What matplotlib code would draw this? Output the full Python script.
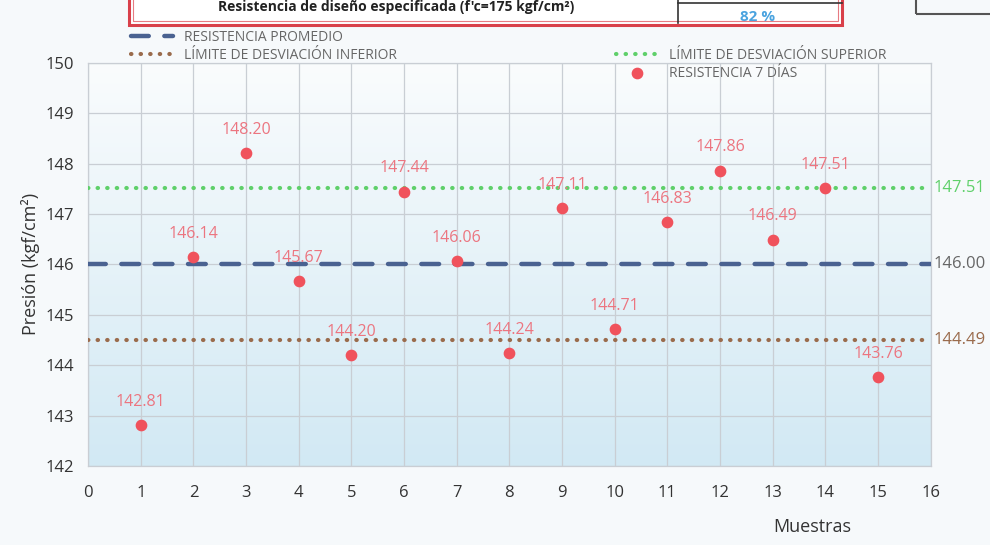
import matplotlib
matplotlib.use("Agg")
import matplotlib.pyplot as plt
import numpy as np
from matplotlib.lines import Line2D
from matplotlib.patches import Rectangle

plt.rcParams['font.family'] = ['Open Sans', 'DejaVu Sans']

# Muestras y resistencia a 7 días (kgf/cm²)
muestras = [1, 2, 3, 4, 5, 6, 7, 8, 9, 10, 11, 12, 13, 14, 15]
resistencia = [142.81, 146.14, 148.20, 145.67, 144.20, 147.44, 146.06, 144.24,
               147.11, 144.71, 146.83, 147.86, 146.49, 147.51, 143.76]
promedio = 146.00
lim_superior = 147.51
lim_inferior = 144.49
x_ticks = list(range(0, 17))
y_ticks = list(range(142, 151))

c_prom = '#4a6291'
c_sup = '#5fd06a'
c_inf = '#9a6b4c'
c_pt = '#f0525c'
c_lbl = '#ec7580'

fig = plt.figure(figsize=(9.9, 5.45), dpi=100)
fig.patch.set_facecolor('#f6f9fb')

# Cabecera de la tabla de resultados
fig.patches.append(Rectangle((0.13, 0.955), 0.72, 0.08, transform=fig.transFigure,
                             fill=True, facecolor='white', edgecolor='#d9404a', lw=2.2))
fig.patches.append(Rectangle((0.134, 0.962), 0.712, 0.07, transform=fig.transFigure,
                             fill=False, edgecolor='#e77b82', lw=0.8))
fig.add_artist(Line2D([0.685, 0.685], [0.958, 1.0], transform=fig.transFigure,
                      color='#333333', lw=1.2))
fig.add_artist(Line2D([0.685, 0.85], [0.995, 0.995], transform=fig.transFigure,
                      color='#333333', lw=1.2))
fig.text(0.40, 0.988, "Resistencia de diseño especificada (f'c=175 kgf/cm²)",
         ha='center', va='center', fontsize=10, fontweight='bold', color='#222222')
fig.text(0.765, 0.968, '82 %', ha='center', va='center', fontsize=11,
         fontweight='bold', color='#4aa3df')
fig.patches.append(Rectangle((0.925, 0.975), 0.09, 0.04, transform=fig.transFigure,
                             fill=False, edgecolor='#555555', lw=1.5))

ax = fig.add_axes([0.089, 0.145, 0.851, 0.74])

# Fondo degradado del área de trazado (claro arriba, celeste abajo)
grad = np.linspace(0, 1, 256).reshape(-1, 1)
cmap = matplotlib.colors.LinearSegmentedColormap.from_list('bg', ['#fafcfd', '#d2e9f4'])
ax.imshow(grad, extent=[0, 16, 142, 150], origin='upper', aspect='auto',
          cmap=cmap, zorder=0)

ax.set_xlim(0, 16)
ax.set_ylim(142, 150)
ax.set_xticks(x_ticks)
ax.set_yticks(y_ticks)
ax.grid(True, color='#c9ced4', lw=0.9, zorder=1)
for s in ax.spines.values():
    s.set_color('#c9ced4')
    s.set_linewidth(0.9)
ax.tick_params(length=0, labelsize=12, colors='#333333', pad=14)
ax.tick_params(axis='y', pad=10)

ax.plot([0, 16], [promedio, promedio], color=c_prom, lw=3.2, ls=(0, (4, 3.5)),
        dash_capstyle='round', zorder=3, label='RESISTENCIA PROMEDIO')
ax.plot([0, 16], [lim_inferior, lim_inferior], color=c_inf, lw=3, ls=(0, (0.1, 2.2)),
        dash_capstyle='round', zorder=3, label='LÍMITE DE DESVIACIÓN INFERIOR')
ax.plot([0, 16], [lim_superior, lim_superior], color=c_sup, lw=3, ls=(0, (0.1, 2.2)),
        dash_capstyle='round', zorder=3, label='LÍMITE DE DESVIACIÓN SUPERIOR')
ax.scatter(muestras, resistencia, s=55, color=c_pt, zorder=4, label='RESISTENCIA 7 DÍAS')

for x, y in zip(muestras, resistencia):
    ax.annotate(f'{y:.2f}', (x, y), xytext=(0, 11), textcoords='offset points',
                ha='center', va='bottom', fontsize=11.5, color=c_lbl, zorder=5)

ax.annotate(f'{lim_superior:.2f}', (16, lim_superior), xytext=(2, 0),
            textcoords='offset points', ha='left', va='center', fontsize=12, color=c_sup)
ax.annotate(f'{promedio:.2f}', (16, promedio), xytext=(2, 0),
            textcoords='offset points', ha='left', va='center', fontsize=12, color='#666666')
ax.annotate(f'{lim_inferior:.2f}', (16, lim_inferior), xytext=(2, 0),
            textcoords='offset points', ha='left', va='center', fontsize=12, color=c_inf)

ax.set_ylabel('Presión (kgf/cm²)', fontsize=13, color='#333333', labelpad=4)
ax.set_xlabel('Muestras', fontsize=13, color='#333333')
ax.xaxis.set_label_coords(0.86, -0.13)

h, l = ax.get_legend_handles_labels()
leg1 = fig.legend([h[0], h[1]], [l[0], l[1]], loc='upper left',
                  bbox_to_anchor=(0.12, 0.968), frameon=False, fontsize=10,
                  labelcolor='#666666', handlelength=3.0, labelspacing=0.2,
                  handletextpad=0.8)
leg2 = fig.legend([h[2], h[3]], [l[2], l[3]], loc='upper left',
                  bbox_to_anchor=(0.61, 0.935), frameon=False, fontsize=10,
                  labelcolor='#666666', handlelength=3.0, labelspacing=0.2,
                  handletextpad=0.8)

fig.savefig('out.png', dpi=100)
